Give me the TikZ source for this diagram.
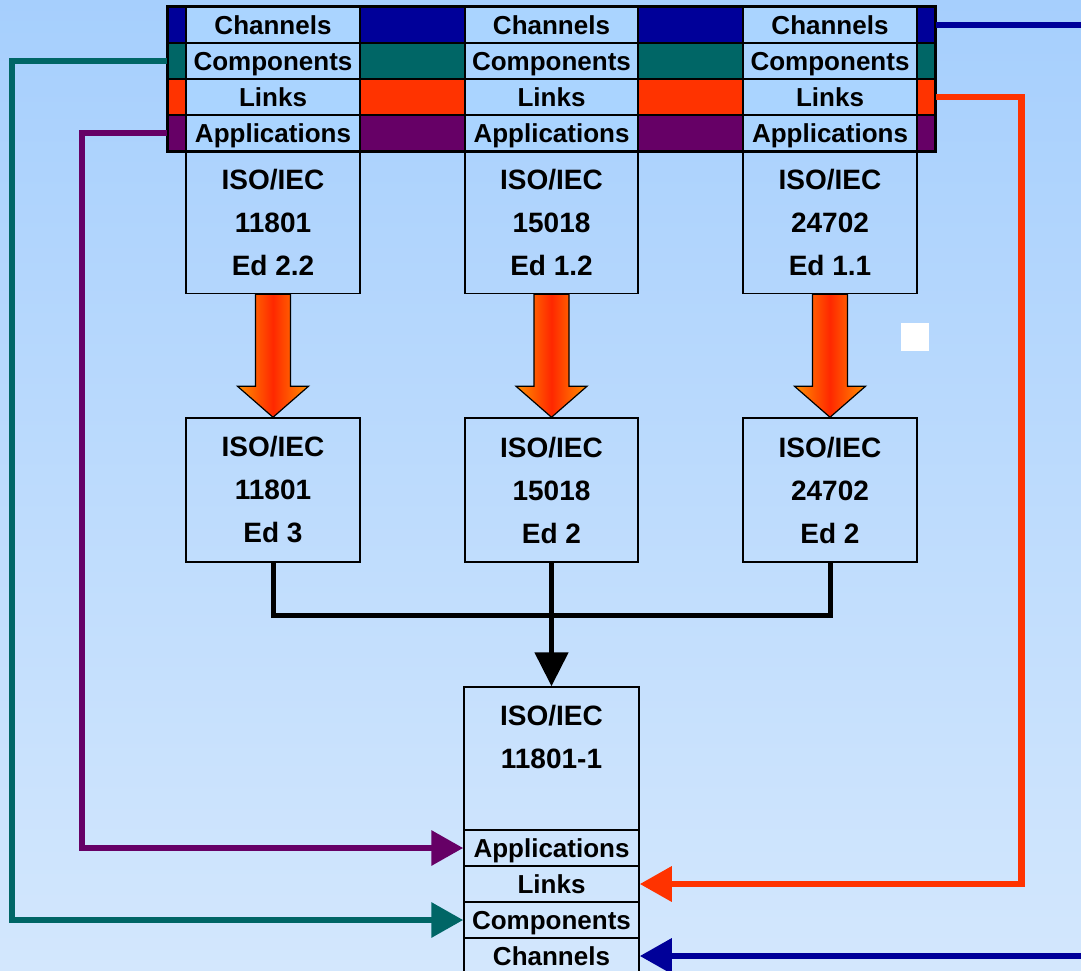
\documentclass[tikz,border=0pt]{standalone}
\usepackage{fontspec}
\setmainfont{Liberation Sans}
\usetikzlibrary{arrows.meta,calc}
\definecolor{bgtop}{RGB}{166,207,253}
\definecolor{bgbot}{RGB}{211,231,253}
\definecolor{cellfill}{RGB}{170,212,255}
\definecolor{cBlue}{RGB}{0,0,153}
\definecolor{cTeal}{RGB}{0,102,102}
\definecolor{cRed}{RGB}{255,51,0}
\definecolor{cPurple}{RGB}{102,0,102}
\definecolor{arOrange}{RGB}{255,145,0}
\definecolor{arRed}{RGB}{255,40,0}
\tikzset{
  hcell/.style={draw=black, line width=1.5pt, fill=cellfill, minimum width=174pt,
    minimum height=36pt, inner sep=0pt, text height=18.6pt, text depth=0pt,
    font=\fontsize{26}{30}\selectfont\bfseries},
  colstrip/.style={draw=black, line width=1.5pt, minimum height=36pt, inner sep=0pt},
  isobox/.style={draw=black, line width=1.5pt, minimum width=174pt, minimum height=143pt,
    inner sep=0pt, align=center, font=\fontsize{28}{43}\selectfont\bfseries},
  link/.style={line width=6.5pt, line join=miter, -{Triangle[length=32pt,width=34pt]}},
  joinline/.style={line width=5pt, line join=miter},
  fatarrow/.style={left color=arOrange, right color=arOrange, middle color=arRed,
    draw=black, line width=1.2pt, line join=miter}
}
\begin{document}
\begin{tikzpicture}[x=1pt,y=-1pt]
\shade[top color=bgtop,bottom color=bgbot] (0,0) rectangle (1081,970);
\useasboundingbox (0,0) rectangle (1081,970);

% header table
\foreach \k/\t/\c/\y in {Ch/Channels/cBlue/25, Co/Components/cTeal/61, Li/Links/cRed/97, Ap/Applications/cPurple/133} {
  \node[colstrip, fill=\c, minimum width=18pt] (sL\k) at (177,\y) {};
  \node[hcell] (h\k1) at (273,\y) {\t};
  \node[colstrip, fill=\c, minimum width=105pt] (b\k1) at (412.5,\y) {};
  \node[hcell, minimum width=173pt] (h\k2) at (551.5,\y) {\t};
  \node[colstrip, fill=\c, minimum width=105pt] (b\k2) at (690.5,\y) {};
  \node[hcell] (h\k3) at (830,\y) {\t};
  \node[colstrip, fill=\c, minimum width=18pt] (sR\k) at (926,\y) {};
}
\draw[line width=3pt] (sLCh.north west) rectangle (sRAp.south east);

% upper boxes
\node[isobox] (u1) at (273,222) {ISO/IEC\\11801\\Ed 2.2};
\node[isobox, minimum width=173pt] (u2) at (551.5,222) {ISO/IEC\\15018\\Ed 1.2};
\node[isobox] (u3) at (830,222) {ISO/IEC\\24702\\Ed 1.1};

% middle boxes
\node[isobox, minimum height=144pt] (m1) at (273,490) {ISO/IEC\\11801\\Ed 3};
\node[isobox, minimum height=144pt, minimum width=173pt] (m2) at (551.5,490) {ISO/IEC\\15018\\Ed 2};
\node[isobox, minimum height=144pt] (m3) at (830,490) {ISO/IEC\\24702\\Ed 2};

% bottom box
\node[isobox, minimum width=175pt] (bot) at (551.5,758.5) {ISO/IEC\\11801-1\\\mbox{}};
\node[hcell, fill=none, minimum width=175pt] (rAp) at (551.5,848) {Applications};
\node[hcell, fill=none, minimum width=175pt] (rLi) at (551.5,884) {Links};
\node[hcell, fill=none, minimum width=175pt] (rCo) at (551.5,920) {Components};
\node[hcell, fill=none, minimum width=175pt] (rCh) at (551.5,956) {Channels};

% fat orange arrows
\foreach \i in {1,2,3} {
  \shadedraw[fatarrow] ($(u\i.south)+(-17.5,0)$) -- ($(m\i.north)+(-17.5,-31)$)
    -- ($(m\i.north)+(-35.5,-31)$) -- (m\i.north) -- ($(m\i.north)+(35.5,-31)$)
    -- ($(m\i.north)+(17.5,-31)$) -- ($(u\i.south)+(17.5,0)$) -- cycle;
}

% black join
\coordinate (J) at (551.5,615);
\draw[joinline] (m1.south) |- (J) -| (m3.south);
\draw[joinline, -{Triangle[length=34pt,width=33pt]}] (m2.south) -- (bot.north);

% coloured connectors
\coordinate (xp) at (82,0);
\coordinate (xt) at (12,0);
\coordinate (xo) at (1021.5,0);
\coordinate (xb) at (1110,0);
\draw[link, cPurple] (sLAp.west) -| (xp |- rAp.west) -- (rAp.west);
\draw[link, cTeal] (sLCo.west) -| (xt |- rCo.west) -- (rCo.west);
\draw[link, cRed] (sRLi.east) -| (xo |- rLi.east) -- (rLi.east);
\draw[link, cBlue] (sRCh.east) -| (xb |- rCh.east) -- (rCh.east);

% small white square
\fill[white] (901,323) rectangle (929,351);
\end{tikzpicture}
\end{document}
